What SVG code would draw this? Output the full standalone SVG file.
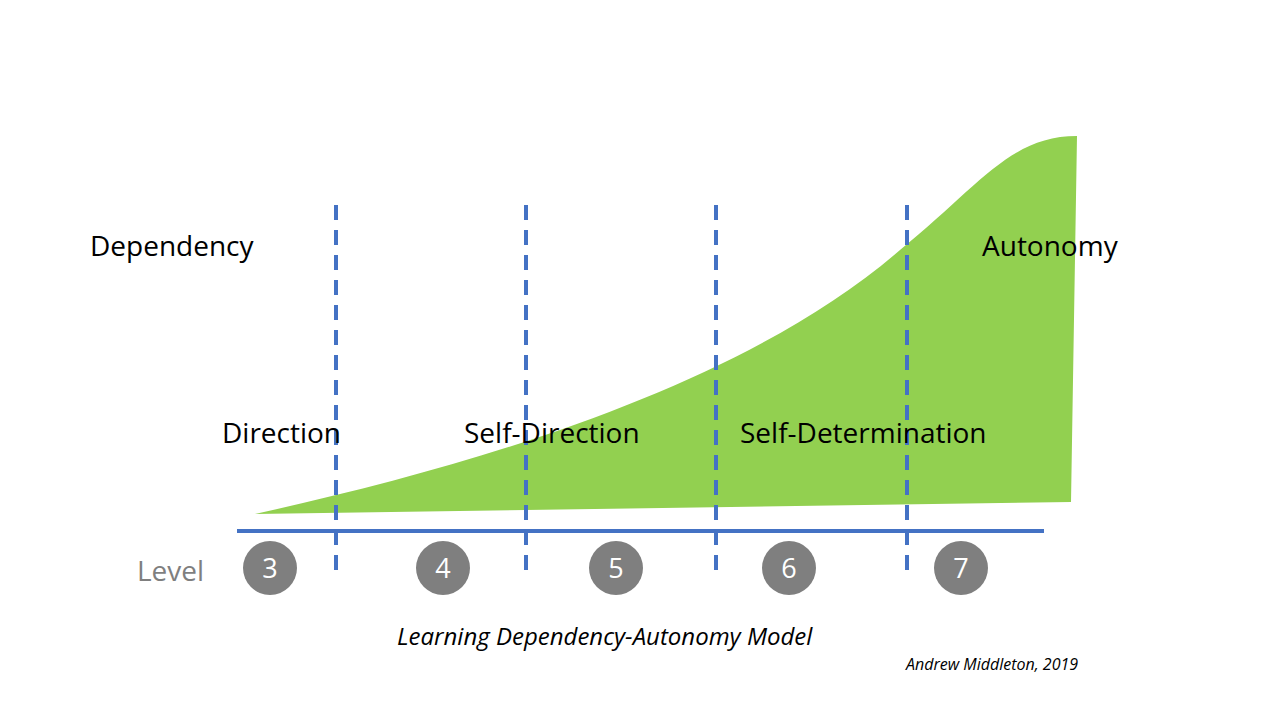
<svg xmlns="http://www.w3.org/2000/svg" width="1280" height="720" viewBox="0 0 1280 720">
<style>
.t{font-family:"Open Sans","Liberation Sans",sans-serif;font-size:28px;fill:#000}
.d{stroke:#4472C4;stroke-width:4;stroke-dasharray:15 10;fill:none}
.c{fill:#7f7f7f}
.n{font-family:"Open Sans","Liberation Sans",sans-serif;font-size:27px;fill:#fff;text-anchor:middle}
</style>
<rect width="1280" height="720" fill="#fff"/>
<g id="curve"><path d="M255,514 C500,460 750,380 900,250 C980,185 1010,136 1077,136 L1071,502 L255,514 Z" fill="#92D050"/></g>
<g id="connectors">
<line class="d" x1="336" y1="205" x2="336" y2="578"/>
<line class="d" x1="526" y1="205" x2="526" y2="578"/>
<line class="d" x1="716" y1="205" x2="716" y2="578"/>
<line class="d" x1="907" y1="205" x2="907" y2="578"/>
<line x1="237" y1="531" x2="1044" y2="531" stroke="#4472C4" stroke-width="4"/>
</g>
<g id="labels">
<text class="t" x="90" y="256">Dependency</text>
<text class="t" x="982" y="256">Autonomy</text>
<text class="t" x="222" y="443">Direction</text>
<text class="t" x="464" y="443">Self-Direction</text>
<text class="t" x="740" y="443">Self-Determination</text>
<text x="137" y="581" font-family="Open Sans,Liberation Sans,sans-serif" font-size="28" fill="#7f7f7f">Level</text>
<text x="397" y="645" font-family="Open Sans,Liberation Sans,sans-serif" font-size="24" font-style="italic">Learning Dependency-Autonomy Model</text>
<text x="906" y="670" font-family="Open Sans,Liberation Sans,sans-serif" font-size="16" font-style="italic">Andrew Middleton, 2019</text>
</g>
<g id="l3"><circle class="c" cx="270" cy="568" r="27"/><text class="n" x="270" y="578">3</text></g>
<g id="l4"><circle class="c" cx="443" cy="568" r="27"/><text class="n" x="443" y="578">4</text></g>
<g id="l5"><circle class="c" cx="616" cy="568" r="27"/><text class="n" x="616" y="578">5</text></g>
<g id="l6"><circle class="c" cx="789" cy="568" r="27"/><text class="n" x="789" y="578">6</text></g>
<g id="l7"><circle class="c" cx="961" cy="568" r="27"/><text class="n" x="961" y="578">7</text></g>
</svg>
